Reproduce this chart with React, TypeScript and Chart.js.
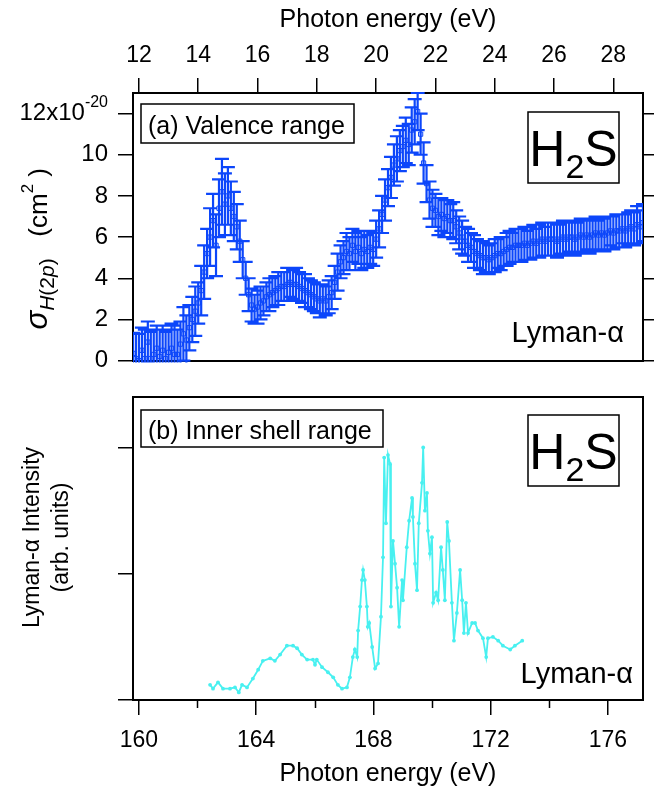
import React, { useEffect, useRef } from 'react';
import { Chart, registerables } from 'chart.js';

Chart.register(...registerables);

const FONT = "'Liberation Sans', Arial, Helvetica, sans-serif";
const BLUE = 'rgb(12, 70, 250)';
const CYAN = 'rgb(72, 240, 240)';

// (a) Valence range: photon energy (eV)
const valenceEnergy = [
  11.8, 11.9,
  12.0, 12.1, 12.2, 12.3, 12.4, 12.5, 12.6, 12.7, 12.8, 12.9,
  13.0, 13.1, 13.2, 13.3, 13.4, 13.5, 13.6, 13.7, 13.8, 13.9,
  14.0, 14.1, 14.2, 14.3, 14.4, 14.5, 14.6, 14.7, 14.8, 14.9,
  15.0, 15.1, 15.2, 15.3, 15.4, 15.5, 15.6, 15.7, 15.8, 15.9,
  16.0, 16.1, 16.2, 16.3, 16.4, 16.5, 16.6, 16.7, 16.8, 16.9,
  17.0, 17.1, 17.2, 17.3, 17.4, 17.5, 17.6, 17.7, 17.8, 17.9,
  18.0, 18.1, 18.2, 18.3, 18.4, 18.5, 18.6, 18.7, 18.8, 18.9,
  19.0, 19.1, 19.2, 19.3, 19.4, 19.5, 19.6, 19.7, 19.8, 19.9,
  20.0, 20.1, 20.2, 20.3, 20.4, 20.5, 20.6, 20.7, 20.8, 20.9,
  21.0, 21.1, 21.2, 21.3, 21.4, 21.5, 21.6, 21.7, 21.8, 21.9,
  22.0, 22.1, 22.2, 22.3, 22.4, 22.5, 22.6, 22.7, 22.8, 22.9,
  23.0, 23.1, 23.2, 23.3, 23.4, 23.5, 23.6, 23.7, 23.8, 23.9,
  24.0, 24.1, 24.2, 24.3, 24.4, 24.5, 24.6, 24.7, 24.8, 24.9,
  25.0, 25.1, 25.2, 25.3, 25.4, 25.5, 25.6, 25.7, 25.8, 25.9,
  26.0, 26.1, 26.2, 26.3, 26.4, 26.5, 26.6, 26.7, 26.8, 26.9,
  27.0, 27.1, 27.2, 27.3, 27.4, 27.5, 27.6, 27.7, 27.8, 27.9,
  28.0, 28.1, 28.2, 28.3, 28.4, 28.5, 28.6, 28.7, 28.8, 28.9,
  29.0,
];

// σ_H(2p) in units of 1e-20 cm²
const valenceSigma = [
  0.35, 0.1,
  0.0, 0.5, 0.1, 0.9, 0.1, 0.3, 0.6, 0.2, 0.5, 0.1,
  0.4, 0.6, 0.3, 0.3, 0.8, 1.3, 1.0, 1.6, 2.0, 2.4,
  2.8, 3.4, 4.3, 5.2, 6.0, 6.8, 5.6, 7.4, 8.2, 7.6,
  8.0, 7.4, 7.0, 6.5, 5.8, 4.9, 4.0, 3.2, 2.7, 2.5,
  2.6, 2.8, 2.9, 3.1, 3.2, 3.3, 3.4, 3.5, 3.6, 3.6,
  3.7, 3.8, 3.7, 3.7, 3.6, 3.5, 3.4, 3.3, 3.2, 3.1,
  3.0, 2.9, 3.0, 2.9, 3.1, 3.3, 3.8, 4.3, 4.8, 5.0,
  5.3, 5.2, 5.6, 5.3, 5.5, 5.2, 5.4, 5.3, 5.5, 5.4,
  5.9, 6.4, 7.1, 7.8, 8.4, 8.9, 9.5, 9.8, 10.2, 10.4,
  10.7, 10.5, 11.2, 11.6, 12.1, 11.0, 9.6, 8.6, 7.8, 7.4,
  7.3, 7.0, 7.1, 6.9, 7.0, 6.8, 6.8, 6.5, 6.2, 6.0,
  5.8, 5.6, 5.5, 5.3, 5.2, 5.1, 5.0, 5.0, 4.9, 5.0,
  5.1, 5.2, 5.2, 5.3, 5.4, 5.5, 5.5, 5.6, 5.6, 5.6,
  5.7, 5.6, 5.7, 5.8, 5.7, 5.8, 5.9, 5.8, 5.9, 5.9,
  5.9, 5.8, 5.9, 6.0, 5.9, 6.0, 6.0, 5.9, 6.0, 6.1,
  6.0, 6.1, 6.0, 6.1, 6.2, 6.1, 6.2, 6.1, 6.2, 6.3,
  6.2, 6.3, 6.3, 6.4, 6.3, 6.4, 6.5, 6.4, 6.6, 6.5,
  6.7,
];

// ± uncertainty of σ_H(2p), same units
const valenceError = [
  1.0, 1.2,
  1.3, 1.1, 1.4, 1.0, 1.3, 1.2, 1.1, 1.3, 1.2, 1.3,
  1.1, 1.2, 1.4, 1.2, 1.1, 1.3, 1.2, 1.1, 1.1, 1.2,
  1.0, 1.2, 1.3, 1.2, 1.4, 1.3, 1.5, 1.4, 1.6, 1.5,
  1.4, 1.3, 1.2, 1.1, 1.0, 0.9, 0.8, 0.8, 0.8, 0.7,
  0.8, 0.8, 0.7, 0.7, 0.8, 0.7, 0.7, 0.8, 0.7, 0.7,
  0.8, 0.7, 0.7, 0.8, 0.7, 0.7, 0.8, 0.7, 0.7, 0.7,
  0.7, 0.8, 0.7, 0.7, 0.8, 0.8, 0.8, 0.9, 0.8, 0.8,
  0.9, 0.8, 0.8, 0.9, 0.8, 0.8, 0.9, 0.8, 0.8, 0.8,
  0.9, 0.9, 0.9, 1.0, 0.9, 1.0, 1.0, 1.1, 1.0, 1.0,
  1.1, 1.0, 1.1, 1.1, 0.9, 1.0, 1.0, 0.9, 0.9, 0.9,
  0.8, 0.9, 0.8, 0.9, 0.8, 0.8, 0.9, 0.8, 0.8, 0.8,
  0.7, 0.8, 0.7, 0.8, 0.7, 0.7, 0.8, 0.7, 0.7, 0.7,
  0.8, 0.7, 0.8, 0.7, 0.8, 0.8, 0.7, 0.8, 0.8, 0.8,
  0.8, 0.7, 0.8, 0.8, 0.7, 0.8, 0.8, 0.7, 0.8, 0.8,
  0.8, 0.8, 0.7, 0.8, 0.8, 0.7, 0.8, 0.8, 0.7, 0.8,
  0.8, 0.7, 0.8, 0.8, 0.8, 0.7, 0.8, 0.8, 0.8, 0.7,
  0.8, 0.8, 0.8, 0.7, 0.8, 0.8, 0.8, 0.8, 0.9, 0.8,
  0.9,
];

// (b) Inner shell range: photon energy (eV) and Lyman-α intensity (arb. units)
const innerEnergy = [
  162.43, 162.53, 162.7, 162.87, 163.11, 163.28, 163.41, 163.52, 163.69, 163.89,
  164.07, 164.23, 164.48, 164.64, 164.82, 165.05, 165.26, 165.4, 165.56, 165.74,
  165.94, 166.01, 166.07, 166.25, 166.45, 166.63, 166.79, 166.93, 167.1, 167.2,
  167.3, 167.37, 167.45, 167.48, 167.55, 167.61, 167.65, 167.71, 167.78, 167.81,
  167.86, 167.96, 168.06, 168.16, 168.26, 168.33, 168.37, 168.43, 168.5, 168.57,
  168.6, 168.67, 168.74, 168.81, 168.88, 168.98, 169.01, 169.14, 169.22, 169.32,
  169.35, 169.42, 169.49, 169.55, 169.66, 169.7, 169.76, 169.83, 169.86, 169.93,
  170.0, 170.04, 170.14, 170.21, 170.31, 170.37, 170.44, 170.52, 170.58, 170.68,
  170.75, 170.85, 170.96, 171.03, 171.09, 171.16, 171.23, 171.37, 171.47, 171.57,
  171.74, 171.85, 171.91, 172.08, 172.26, 172.42, 172.67, 172.83, 173.08,
];

const innerIntensity = [
  0.12, 0.09, 0.14, 0.09, 0.09, 0.1, 0.06, 0.12, 0.1, 0.17,
  0.24, 0.31, 0.33, 0.31, 0.36, 0.43, 0.43, 0.41, 0.36, 0.32,
  0.32, 0.28, 0.32, 0.26, 0.22, 0.18, 0.12, 0.09, 0.1, 0.18,
  0.34, 0.4, 0.34, 0.55, 0.74, 0.95, 1.03, 0.95, 0.74, 0.58,
  0.61, 0.42, 0.25, 0.29, 0.66, 1.13, 1.92, 1.4, 1.94, 1.87,
  0.74, 1.26, 1.08, 0.89, 0.58, 0.95, 0.79, 1.21, 1.42, 1.6,
  1.45, 1.08, 0.87, 1.4, 1.72, 2.0, 1.5, 1.64, 1.34, 1.16,
  1.29, 0.77, 0.85, 0.79, 1.21, 1.03, 0.79, 1.41, 1.26, 0.77,
  0.47, 0.69, 1.03, 0.79, 0.53, 0.77, 0.53, 0.61, 0.61, 0.55,
  0.49, 0.34, 0.49, 0.5, 0.47, 0.43, 0.4, 0.43, 0.47,
];

const innerMinorTicks = [162, 166, 170, 174];

type Run = { text: string; size: number; italic?: boolean; shift?: number };

function fontOf(r: Run) {
  return `${r.italic ? 'italic ' : ''}${r.size}px ${FONT}`;
}

// Draws a sequence of text runs (sub/superscripts via shift)
function drawRuns(ctx: CanvasRenderingContext2D, runs: Run[], x: number, y: number, align: 'left' | 'center' | 'right') {
  ctx.textAlign = 'left';
  ctx.textBaseline = 'alphabetic';
  const widths = runs.map((r) => {
    ctx.font = fontOf(r);
    return ctx.measureText(r.text).width;
  });
  const total = widths.reduce((a, b) => a + b, 0);
  let cx = align === 'left' ? x : align === 'center' ? x - total / 2 : x - total;
  runs.forEach((r, i) => {
    ctx.font = fontOf(r);
    ctx.fillText(r.text, cx, y + (r.shift || 0));
    cx += widths[i];
  });
}

function drawBoxedLabel(ctx: CanvasRenderingContext2D, x: number, y: number, w: number, h: number) {
  ctx.fillStyle = '#fff';
  ctx.fillRect(x, y, w, h);
  ctx.strokeStyle = '#000';
  ctx.lineWidth = 1.5;
  ctx.strokeRect(x, y, w, h);
  ctx.fillStyle = '#000';
}

function drawMolecule(ctx: CanvasRenderingContext2D, x: number, y: number) {
  drawBoxedLabel(ctx, x, y, 91, 71);
  drawRuns(ctx, [
    { text: 'H', size: 50 },
    { text: '2', size: 34, shift: 12 },
    { text: 'S', size: 50 },
  ], x + 45.5, y + 54, 'center');
}

const errorBarPlugin = {
  id: 'valenceErrorBars',
  afterDatasetsDraw(chart: any) {
    const { ctx, chartArea, scales } = chart;
    const xs = scales.x;
    const ys = scales.y;
    ctx.save();
    ctx.beginPath();
    ctx.rect(chartArea.left, chartArea.top - 1, chartArea.right - chartArea.left, chartArea.bottom - chartArea.top + 3);
    ctx.clip();
    ctx.strokeStyle = BLUE;
    ctx.lineWidth = 2.2;
    ctx.beginPath();
    valenceEnergy.forEach((e, i) => {
      const px = xs.getPixelForValue(e);
      const hi = ys.getPixelForValue(valenceSigma[i] + valenceError[i]);
      const lo = ys.getPixelForValue(valenceSigma[i] - valenceError[i]);
      ctx.moveTo(px, hi);
      ctx.lineTo(px, lo);
      ctx.moveTo(px - 7, hi);
      ctx.lineTo(px + 7, hi);
      ctx.moveTo(px - 7, lo);
      ctx.lineTo(px + 7, lo);
    });
    ctx.stroke();
    ctx.restore();
  },
};

const valenceTextPlugin = {
  id: 'valenceText',
  afterDraw(chart: any) {
    const { ctx, chartArea, scales } = chart;
    const { left, right, top, bottom } = chartArea;
    ctx.save();
    ctx.fillStyle = '#000';

    // 12x10^-20 tick label
    const py = scales.y.getPixelForValue(12);
    ctx.font = `16px ${FONT}`;
    const supW = ctx.measureText('-20').width;
    const labelRight = left - 15 - 10;
    ctx.font = `24px ${FONT}`;
    ctx.textAlign = 'right';
    ctx.textBaseline = 'middle';
    ctx.fillText('12x10', labelRight - supW, py);
    ctx.font = `16px ${FONT}`;
    ctx.textAlign = 'left';
    ctx.fillText('-20', labelRight - supW, py - 11);

    // rotated y title: σ_H(2p) (cm²)
    ctx.save();
    ctx.translate(47, (top + bottom) / 2 + 22);
    ctx.rotate(-Math.PI / 2);
    drawRuns(ctx, [
      { text: 'σ', size: 31, italic: true },
      { text: 'H', size: 21, italic: true, shift: 7 },
      { text: '(2', size: 21, shift: 7 },
      { text: 'p', size: 21, italic: true, shift: 7 },
      { text: ')', size: 21, shift: 7 },
      { text: '   (cm', size: 26 },
      { text: '2', size: 17, shift: -14 },
      { text: ' )', size: 26 },
    ], 0, 0, 'center');
    ctx.restore();

    // panel label
    drawBoxedLabel(ctx, left + 8, top + 11, 213, 39);
    drawRuns(ctx, [{ text: '(a) Valence range', size: 25 }], left + 15, top + 41, 'left');

    drawMolecule(ctx, right - 115, top + 19);
    drawRuns(ctx, [{ text: 'Lyman-α', size: 29 }], right - 19, bottom - 19, 'right');
    ctx.restore();
  },
};

const innerTextPlugin = {
  id: 'innerText',
  afterDraw(chart: any) {
    const { ctx, chartArea, scales } = chart;
    const { left, right, top, bottom } = chartArea;
    ctx.save();
    ctx.fillStyle = '#000';
    ctx.strokeStyle = '#000';

    // minor ticks on the energy axis
    ctx.lineWidth = 1.5;
    ctx.beginPath();
    innerMinorTicks.forEach((v) => {
      const px = Math.round(scales.x.getPixelForValue(v)) + 0.5;
      ctx.moveTo(px, bottom);
      ctx.lineTo(px, bottom + 8);
    });
    ctx.stroke();

    // rotated two-line y title
    ctx.save();
    ctx.translate(39, (top + bottom) / 2 - 11);
    ctx.rotate(-Math.PI / 2);
    drawRuns(ctx, [{ text: 'Lyman-α Intensity', size: 23 }], 0, 0, 'center');
    drawRuns(ctx, [{ text: '(arb. units)', size: 23 }], 0, 29, 'center');
    ctx.restore();

    drawBoxedLabel(ctx, left + 8, top + 13, 242, 37);
    drawRuns(ctx, [{ text: '(b) Inner shell range', size: 25 }], left + 15, top + 42, 'left');

    drawMolecule(ctx, right - 115, top + 18);
    drawRuns(ctx, [{ text: 'Lyman-α', size: 29 }], right - 10, bottom - 17, 'right');
    ctx.restore();
  },
};

const frameBorder = { display: true, color: '#000', width: 2 };
const outerTicks = {
  display: true,
  drawOnChartArea: false,
  drawTicks: true,
  tickLength: 15,
  tickWidth: 1.5,
  tickColor: '#000',
  color: '#000',
  lineWidth: 1.5,
};
const xTickFont = { family: FONT, size: 23 };
const yTickFont = { family: FONT, size: 24 };
const titleFont = { family: FONT, size: 25 };

function ValencePanel() {
  const ref = useRef<HTMLCanvasElement>(null);
  useEffect(() => {
    const points = valenceEnergy.map((x, i) => ({ x, y: valenceSigma[i] }));
    const chart = new Chart(ref.current as HTMLCanvasElement, {
      type: 'scatter',
      data: {
        datasets: [
          {
            data: points,
            showLine: false,
            pointStyle: 'rect',
            pointRadius: 3,
            borderWidth: 1,
            borderColor: BLUE,
            backgroundColor: 'rgba(255,255,255,0)',
          },
        ],
      },
      options: {
        animation: false,
        responsive: false,
        maintainAspectRatio: false,
        layout: { padding: 0 },
        plugins: { legend: { display: false }, tooltip: { enabled: false } },
        scales: {
          x: {
            type: 'linear',
            position: 'top',
            min: 11.8,
            max: 29,
            afterFit: (s: any) => { s.height = 93; },
            ticks: { stepSize: 2, includeBounds: false, autoSkip: false, maxRotation: 0, padding: 9, color: '#000', font: xTickFont },
            grid: outerTicks,
            border: frameBorder,
            title: { display: true, text: 'Photon energy (eV)', color: '#000', font: titleFont, padding: { top: 5, bottom: 0 } },
          },
          xFrame: {
            type: 'linear',
            position: 'bottom',
            min: 11.8,
            max: 29,
            afterFit: (s: any) => { s.height = 19; },
            ticks: { display: false },
            grid: { display: false },
            border: frameBorder,
          },
          y: {
            type: 'linear',
            position: 'left',
            min: 0,
            max: 13,
            afterFit: (s: any) => { s.width = 133; },
            ticks: {
              stepSize: 2,
              includeBounds: false,
              padding: 10,
              color: '#000',
              font: yTickFont,
              callback: (v: any) => (v === 12 ? '' : String(v)),
            },
            grid: outerTicks,
            border: frameBorder,
          },
          yRight: {
            type: 'linear',
            position: 'right',
            min: 0,
            max: 13,
            afterFit: (s: any) => { s.width = 11; },
            ticks: { stepSize: 2, includeBounds: false, display: false },
            grid: outerTicks,
            border: frameBorder,
          },
        },
      } as any,
      plugins: [errorBarPlugin, valenceTextPlugin],
    });
    return () => chart.destroy();
  }, []);
  return (
    <canvas
      ref={ref}
      width={654}
      height={385}
      style={{ position: 'absolute', left: 0, top: 0, width: 654, height: 385 }}
    />
  );
}

function InnerShellPanel() {
  const ref = useRef<HTMLCanvasElement>(null);
  useEffect(() => {
    const points = innerEnergy.map((x, i) => ({ x, y: innerIntensity[i] }));
    const chart = new Chart(ref.current as HTMLCanvasElement, {
      type: 'line',
      data: {
        datasets: [
          {
            data: points,
            borderColor: CYAN,
            backgroundColor: CYAN,
            borderWidth: 1.8,
            pointRadius: 1.9,
            pointBorderWidth: 0,
            pointBackgroundColor: CYAN,
            tension: 0,
            fill: false,
          },
        ],
      },
      options: {
        animation: false,
        responsive: false,
        maintainAspectRatio: false,
        layout: { padding: 0 },
        plugins: { legend: { display: false }, tooltip: { enabled: false } },
        scales: {
          x: {
            type: 'linear',
            position: 'bottom',
            min: 159.8,
            max: 177.2,
            afterFit: (s: any) => { s.height = 93; },
            ticks: { stepSize: 4, includeBounds: false, autoSkip: false, maxRotation: 0, padding: 12, color: '#000', font: xTickFont },
            grid: outerTicks,
            border: frameBorder,
            title: { display: true, text: 'Photon energy (eV)', color: '#000', font: titleFont, padding: { top: 0, bottom: 4 } },
          },
          xFrame: {
            type: 'linear',
            position: 'top',
            min: 159.8,
            max: 177.2,
            afterFit: (s: any) => { s.height = 12; },
            ticks: { display: false },
            grid: { display: false },
            border: frameBorder,
          },
          y: {
            type: 'linear',
            position: 'left',
            min: 0,
            max: 2.4,
            afterFit: (s: any) => { s.width = 133; },
            ticks: { stepSize: 1, includeBounds: false, display: false },
            grid: outerTicks,
            border: frameBorder,
          },
          yRight: {
            type: 'linear',
            position: 'right',
            min: 0,
            max: 2.4,
            afterFit: (s: any) => { s.width = 11; },
            ticks: { display: false },
            grid: { display: false },
            border: frameBorder,
          },
        },
      } as any,
      plugins: [innerTextPlugin],
    });
    return () => chart.destroy();
  }, []);
  return (
    <canvas
      ref={ref}
      width={654}
      height={408}
      style={{ position: 'absolute', left: 0, top: 385, width: 654, height: 408 }}
    />
  );
}

export default function App() {
  return (
    <div style={{ position: 'fixed', left: 0, top: 0, width: 654, height: 793, background: '#fff', overflow: 'hidden' }}>
      <ValencePanel />
      <InnerShellPanel />
    </div>
  );
}
